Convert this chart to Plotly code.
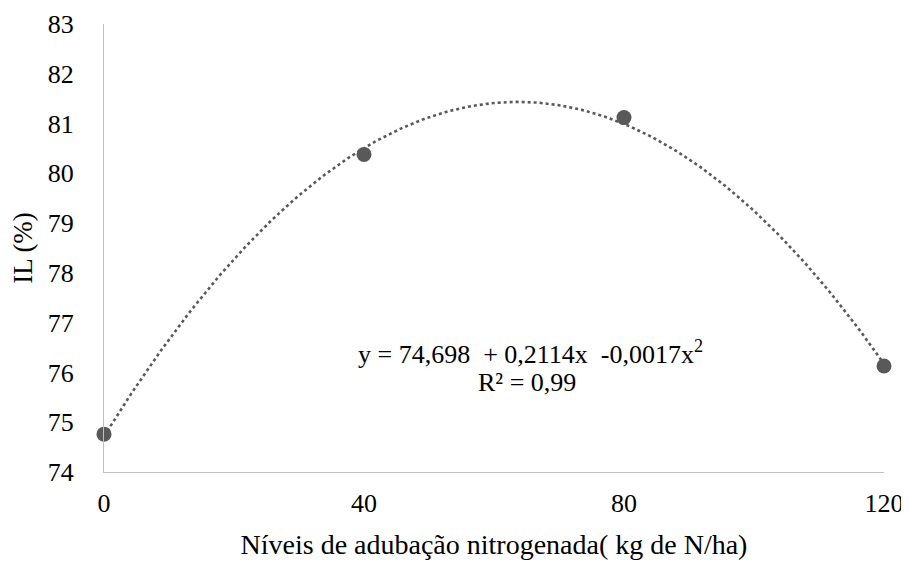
import numpy as np
import plotly.graph_objects as go

# Data
niveis = [0, 40, 80, 120]
il = [74.76, 80.38, 81.12, 76.13]
x_ticks = [0, 40, 80, 120]
y_ticks = [74, 75, 76, 77, 78, 79, 80, 81, 82, 83]
equacao = "y = 74,698  + 0,2114x  -0,0017x<sup>2</sup>"
r2 = "R² = 0,99"

# Polynomial trendline (order 2) fitted to the points
coef = np.polyfit(niveis, il, 2)
xt = np.linspace(0, 120, 241)
yt = np.polyval(coef, xt)

font_family = "'Times New Roman', 'Liberation Serif', 'DejaVu Serif', serif"
gray = "#595959"

fig = go.Figure()
fig.add_trace(go.Scatter(x=xt, y=yt, mode="lines",
                         line=dict(color=gray, width=2.6, dash="dot"),
                         hoverinfo="skip", showlegend=False, cliponaxis=False))
fig.add_trace(go.Scatter(x=niveis, y=il, mode="markers",
                         marker=dict(color=gray, size=15),
                         showlegend=False, cliponaxis=False))

fig.add_annotation(x=65.6, y=76.41, xref="x", yref="y", text=equacao,
                   showarrow=False, font=dict(family=font_family, size=26, color="#000"),
                   xanchor="center", yanchor="middle")
fig.add_annotation(x=65.0, y=75.79, xref="x", yref="y", text=r2,
                   showarrow=False, font=dict(family=font_family, size=26, color="#000"),
                   xanchor="center", yanchor="middle")

# page body has an 8px margin, so the figure is offset by 8px
fig.update_layout(
    width=901, height=554,
    margin=dict(l=96, r=25, t=16, b=90),
    paper_bgcolor="white", plot_bgcolor="white",
    font=dict(family=font_family, size=26, color="#000"),
    xaxis=dict(range=[0, 120], tickvals=x_ticks, showgrid=False, zeroline=False,
               showline=True, linecolor="#c0c0c0", linewidth=1.3, ticks="",
               ticklabelstandoff=8, automargin=False,
               title=dict(text="Níveis de adubação nitrogenada( kg de N/ha)",
                          font=dict(family=font_family, size=28), standoff=17)),
    yaxis=dict(range=[74, 83], tickvals=y_ticks, showgrid=False, zeroline=False,
               showline=True, linecolor="#c0c0c0", linewidth=1.3, ticks="",
               ticklabelstandoff=24, automargin=False,
               title=dict(text="IL (%)", font=dict(family=font_family, size=27), standoff=16)),
)

fig.write_html("out.html")
